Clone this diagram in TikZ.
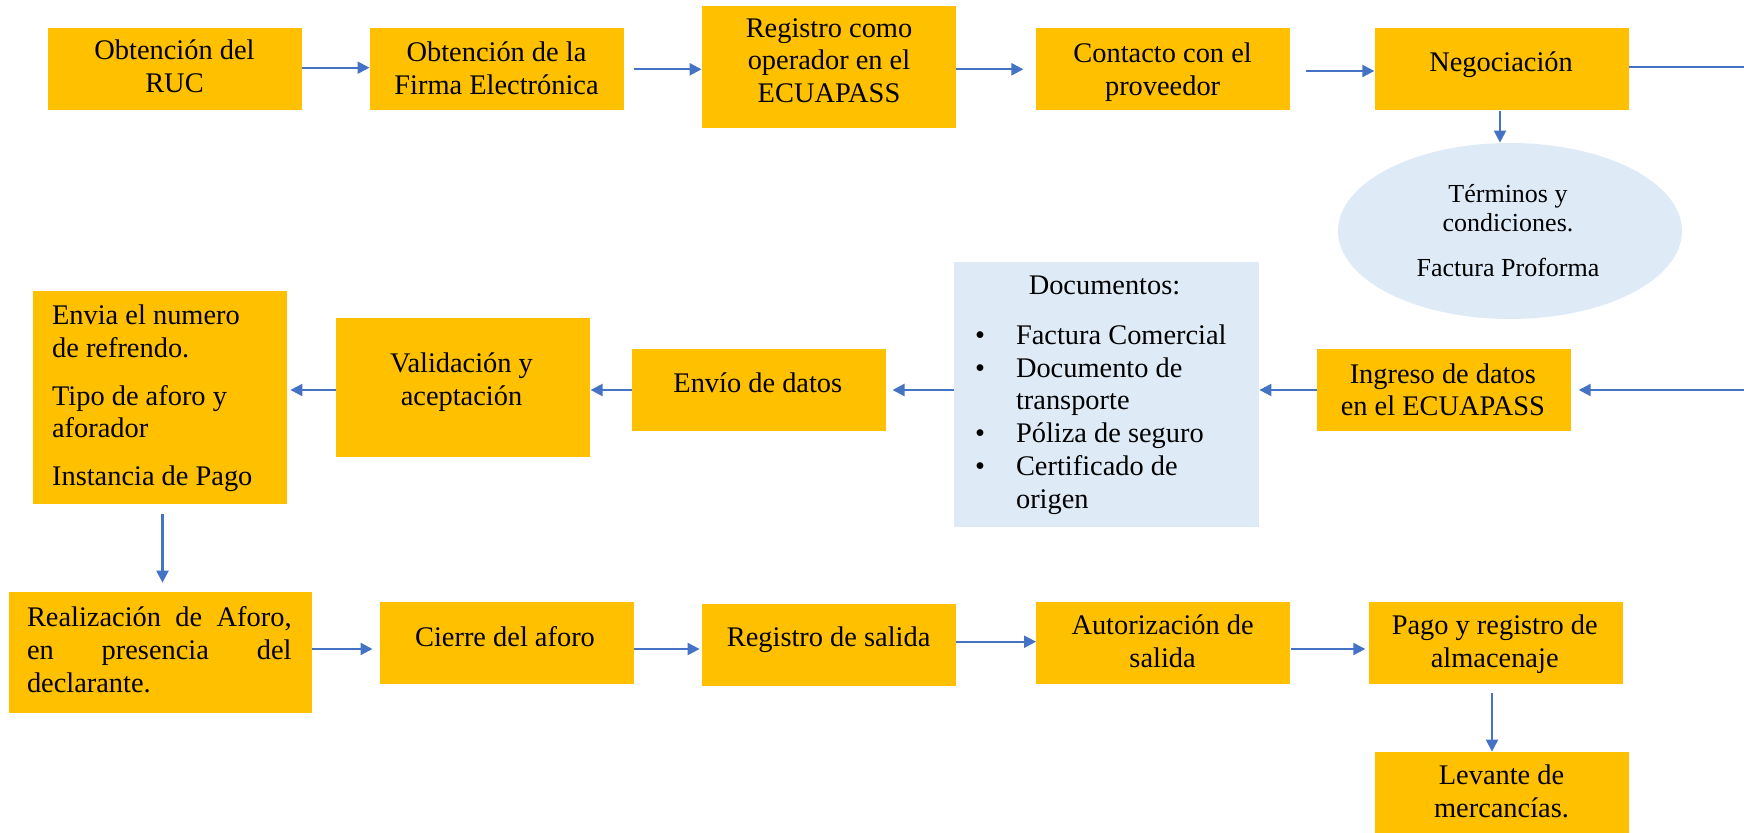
\documentclass[tikz,border=0pt]{standalone}
\usepackage{fontspec}
\setmainfont{Liberation Serif}
\usetikzlibrary{arrows.meta,shapes.geometric}
\definecolor{boxor}{HTML}{FFC000}
\definecolor{boxbl}{HTML}{DEEBF7}
\definecolor{arrbl}{HTML}{4472C4}
\begin{document}
\begin{tikzpicture}[x=0.5pt,y=-0.5pt,
  obox/.style={fill=boxor, draw=none, inner sep=0, minimum width=127pt, minimum height=41pt},
  bbox/.style={fill=boxbl, draw=none, inner sep=0},
  tfont/.style={inner sep=0, yshift=-2.4pt, font=\fontsize{14.2pt}{16.35pt}\selectfont},
  txt/.style={tfont, align=center, execute at begin node=\strut, execute at end node=\strut},
  arr/.style={draw=arrbl, line width=1.1pt, -{Triangle[length=6pt,width=6pt]}},
  plain/.style={draw=arrbl, line width=1.1pt}]
\useasboundingbox (0,0) rectangle (1744,833);

% ---- row 1
\node[obox] (ruc) at (174.5,69.2) {};
\node[txt] (truc) at (174.5,66.3) {Obtención del\\RUC};
\node[obox] (firma) at (496.9,69.2) {};
\node[txt] (tfirma) at (496.5,68.3) {Obtención de la\\Firma Electrónica};
\node[obox, minimum height=61.15pt] (reg) at (829,67.2) {};
\node[txt] (treg) at (829,60.5) {Registro como\\operador en el\\ECUAPASS};
\node[obox] (cont) at (1163.4,69.2) {};
\node[txt] (tcont) at (1162.6,69) {Contacto con el\\proveedor};
\node[obox] (neg) at (1501.7,69.2) {};
\node[txt] (tneg) at (1501,60) {Negociación};
\node[ellipse, fill=boxbl, inner sep=0, minimum width=172pt, minimum height=88pt] (ell) at (1510,231) {};
\node[txt, font=\fontsize{13pt}{14.8pt}\selectfont] (tell) at (1508,230) {Términos y\\condiciones.\\[7.7pt]Factura Proforma};
\coordinate (edgeT) at (1744,67);

% ---- row 2
\node[obox, minimum height=106.65pt] (envia) at (160,397.3) {};
\node[txt, align=left, anchor=west] (tenvia) at (51.7,395.5) {Envia el numero\\de refrendo.\\[7.5pt]Tipo de aforo y\\aforador\\[7.5pt]Instancia de Pago};
\node[obox, minimum height=69.35pt] (valid) at (463.2,387.3) {};
\node[txt] (tvalid) at (461.5,378.9) {Validación y\\aceptación};
\node[obox] (envio) at (758.9,389.8) {};
\node[txt] (tenvio) at (757.8,380.7) {Envío de datos};
\node[bbox, minimum width=152.5pt, minimum height=132.5pt] (docs) at (1106.5,394.2) {};
\node[txt] (tdocs) at (1104.5,283) {Documentos:};
\node[tfont, anchor=west] (tlist) at (974.7,415) {\begin{tabular}{@{}l@{\hspace{15.5pt}}l@{}}
\textbullet & Factura Comercial\\
\textbullet & Documento de\\
 & transporte\\
\textbullet & Póliza de seguro\\
\textbullet & Certificado de\\
 & origen
\end{tabular}};
\node[obox] (ingr) at (1444.3,390) {};
\node[txt] (tingr) at (1442.8,389.9) {Ingreso de datos\\en el ECUAPASS};
\coordinate (edgeM) at (1744,390);

% ---- row 3
\node[obox, minimum width=151.5pt, minimum height=60.65pt] (realiz) at (160.2,652.3) {};
\node[txt, align=left, text width=132.3pt] (trealiz) at (159.3,648.3) {Realización\hfill de\hfill Aforo,\\en\hfill presencia\hfill del\\declarante.};
\node[obox] (cierre) at (506.9,643.3) {};
\node[txt] (tcierre) at (505,635) {Cierre del aforo};
\node[obox] (regsal) at (829,645.2) {};
\node[txt] (tregsal) at (828.6,635) {Registro de salida};
\node[obox] (autor) at (1163.4,643.3) {};
\node[txt] (tautor) at (1162.6,641.3) {Autorización de\\salida};
\node[obox] (pago) at (1495.5,643.3) {};
\node[txt] (tpago) at (1494.7,641.3) {Pago y registro de\\almacenaje};
\node[obox] (lev) at (1501.7,793) {};
\node[txt] (tlev) at (1501.5,790.9) {Levante de\\mercancías.};

% ---- connectors row 1
\draw[arr] (ruc.east |- 0,67.7) -- (firma.west |- 0,67.7);
\draw[arr, shorten <=4.8pt] (firma.east |- 0,69.3) -- (reg.west |- 0,69.3);
\draw[arr, shorten >=6.3pt] (reg.east |- 0,69.3) -- (cont.west |- 0,69.3);
\draw[arr, shorten <=7.5pt] (cont.east |- 0,71) -- (neg.west |- 0,71);
\draw[plain] (neg.east |- 0,67) -- (edgeT);
\draw[arr] (neg.south -| 1500,0) -- (ell.north -| 1500,0);

% ---- connectors row 2
\draw[arr, shorten >=3.5pt] (edgeM) -- (ingr.east |- 0,390);
\draw[arr] (ingr.west |- 0,390) -- (docs.east |- 0,390);
\draw[arr, shorten >=3.1pt] (docs.west |- 0,390) -- (envio.east |- 0,390);
\draw[arr] (envio.west |- 0,390) -- (valid.east |- 0,390);
\draw[arr, shorten >=1.5pt] (valid.west |- 0,390) -- (envia.east |- 0,390);
\draw[arr, shorten <=5pt, shorten >=4.3pt] (envia.south -| 162.5,0) -- (realiz.north -| 162.5,0);

% ---- connectors row 3
\draw[arr, shorten >=3.5pt] (realiz.east |- 0,649) -- (cierre.west |- 0,649);
\draw[arr, shorten >=1pt] (cierre.east |- 0,649) -- (regsal.west |- 0,649);
\draw[arr] (regsal.east |- 0,641.7) -- (autor.west |- 0,641.7);
\draw[arr, shorten >=1.4pt] (autor.east |- 0,649) -- (pago.west |- 0,649);
\draw[arr, shorten <=4.2pt] (pago.south -| 1492,0) -- (lev.north -| 1492,0);
\end{tikzpicture}
\end{document}
